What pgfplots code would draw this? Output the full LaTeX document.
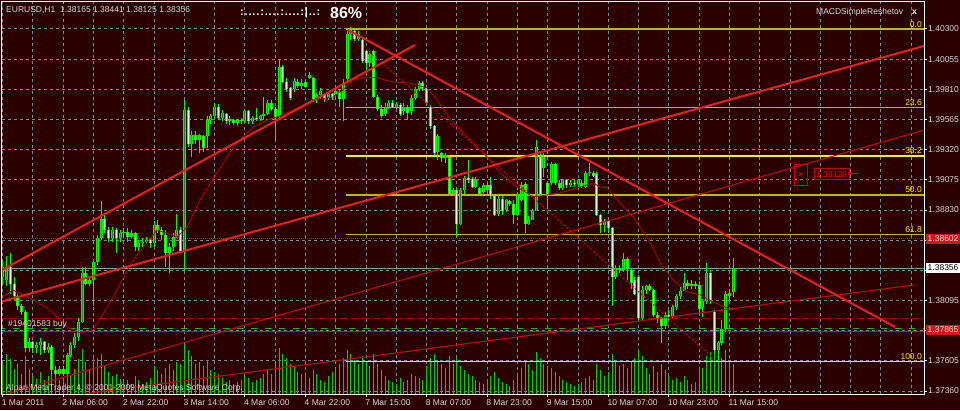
\documentclass[border=0pt]{standalone}
\usepackage{pgfplots}
\pgfplotsset{compat=1.18}
\usepackage{pgfplotstable}
\usepackage{fontspec}
\setmainfont{Liberation Sans}
\definecolor{bg}{RGB}{42,0,0}
\definecolor{gridc}{RGB}{119,136,153}
\definecolor{txt}{RGB}{215,215,215}
\definecolor{wick}{RGB}{0,255,0}
\definecolor{bullfill}{RGB}{0,150,0}
\definecolor{bearfill}{RGB}{215,255,215}
\definecolor{vol}{RGB}{0,210,0}
\definecolor{thickred}{RGB}{235,30,30}
\definecolor{thinred}{RGB}{205,0,0}
\definecolor{fibb}{RGB}{240,240,0}
\definecolor{fibo}{RGB}{185,185,15}
\definecolor{boxred}{RGB}{205,25,25}

\pgfplotstableread{
i o h l c
0 1.3829 1.3842 1.3823 1.3837
1 1.3826 1.3846 1.3821 1.3836
2 1.3837 1.3848 1.3815 1.3823
3 1.3823 1.3829 1.3810 1.3813
4 1.3813 1.3815 1.3802 1.3805
5 1.3805 1.3807 1.3798 1.3800
6 1.3800 1.3802 1.3768 1.3771
7 1.3771 1.3779 1.3768 1.3776
8 1.3776 1.3777 1.3767 1.3771
9 1.3771 1.3776 1.3767 1.3773
10 1.3773 1.3779 1.3765 1.3776
11 1.3776 1.3777 1.3767 1.3769
12 1.3769 1.3775 1.3767 1.3772
13 1.3772 1.3773 1.3750 1.3753
14 1.3753 1.3756 1.3748 1.3750
15 1.3750 1.3756 1.3748 1.3754
16 1.3754 1.3756 1.3748 1.3750
17 1.3750 1.3767 1.3749 1.3765
18 1.3765 1.3776 1.3764 1.3773
19 1.3773 1.3783 1.3771 1.3780
20 1.3780 1.3795 1.3777 1.3792
21 1.3792 1.3837 1.3791 1.3832
22 1.3832 1.3837 1.3822 1.3823
23 1.3823 1.3829 1.3821 1.3826
24 1.3826 1.3842 1.3805 1.3841
25 1.3841 1.3863 1.3838 1.3860
26 1.3860 1.3890 1.3859 1.3876
27 1.3876 1.3879 1.3864 1.3867
28 1.3867 1.3869 1.3857 1.3860
29 1.3860 1.3869 1.3857 1.3867
30 1.3867 1.3868 1.3848 1.3860
31 1.3860 1.3867 1.3857 1.3864
32 1.3864 1.3868 1.3861 1.3865
33 1.3865 1.3868 1.3857 1.3861
34 1.3861 1.3867 1.3860 1.3864
35 1.3864 1.3865 1.3850 1.3853
36 1.3853 1.3859 1.3850 1.3856
37 1.3856 1.3860 1.3853 1.3857
38 1.3857 1.3861 1.3855 1.3859
39 1.3859 1.3860 1.3852 1.3856
40 1.3856 1.3874 1.3853 1.3871
41 1.3871 1.3875 1.3864 1.3867
42 1.3867 1.3869 1.3859 1.3863
43 1.3863 1.3867 1.3837 1.3848
44 1.3848 1.3856 1.3832 1.3853
45 1.3853 1.3864 1.3850 1.3861
46 1.3861 1.3880 1.3860 1.3867
47 1.3867 1.3869 1.3848 1.3850
48 1.3850 1.3972 1.3834 1.3964
49 1.3964 1.3967 1.3934 1.3937
50 1.3937 1.3947 1.3926 1.3944
51 1.3944 1.3947 1.3937 1.3940
52 1.3940 1.3945 1.3929 1.3944
53 1.3943 1.3944 1.3930 1.3933
54 1.3943 1.3959 1.3933 1.3956
55 1.3956 1.3961 1.3953 1.3959
56 1.3959 1.3970 1.3957 1.3967
57 1.3967 1.3969 1.3956 1.3958
58 1.3958 1.3964 1.3955 1.3962
59 1.3961 1.3962 1.3953 1.3955
60 1.3955 1.3959 1.3952 1.3957
61 1.3956 1.3957 1.3952 1.3954
62 1.3954 1.3957 1.3951 1.3956
63 1.3956 1.3958 1.3953 1.3955
64 1.3955 1.3964 1.3954 1.3963
65 1.3963 1.3964 1.3953 1.3955
66 1.3955 1.3959 1.3953 1.3958
67 1.3958 1.3966 1.3955 1.3957
68 1.3957 1.3960 1.3955 1.3959
69 1.3959 1.3975 1.3956 1.3961
70 1.3961 1.3972 1.3960 1.3970
71 1.3970 1.3972 1.3963 1.3965
72 1.3965 1.3967 1.3940 1.3958
73 1.3959 1.4005 1.3956 1.3999
74 1.3999 1.4001 1.3986 1.3987
75 1.3987 1.3990 1.3979 1.3981
76 1.3982 1.3983 1.3972 1.3974
77 1.3981 1.3990 1.3979 1.3988
78 1.3987 1.3989 1.3982 1.3984
79 1.3984 1.3989 1.3981 1.3986
80 1.3987 1.3989 1.3982 1.3983
81 1.3990 1.3995 1.3989 1.3993
82 1.3990 1.3991 1.3971 1.3973
83 1.3973 1.3978 1.3970 1.3976
84 1.3976 1.3982 1.3973 1.3980
85 1.3976 1.3978 1.3971 1.3973
86 1.3974 1.3979 1.3972 1.3977
87 1.3977 1.3978 1.3972 1.3974
88 1.3976 1.3982 1.3975 1.3980
89 1.3979 1.3981 1.3967 1.3973
90 1.3973 1.3989 1.3955 1.3986
91 1.3989 1.4028 1.3987 1.4026
92 1.4026 1.4032 1.4021 1.4029
93 1.4028 1.4029 1.4020 1.4022
94 1.4022 1.4028 1.4020 1.4026
95 1.4021 1.4022 1.4002 1.4004
96 1.4012 1.4014 1.3997 1.4002
97 1.4002 1.4012 1.3999 1.4010
98 1.4012 1.4013 1.3974 1.3975
99 1.3975 1.3976 1.3963 1.3965
100 1.3965 1.3968 1.3958 1.3959
101 1.3961 1.3970 1.3959 1.3967
102 1.3967 1.3972 1.3965 1.3970
103 1.3970 1.3972 1.3966 1.3967
104 1.3967 1.3971 1.3965 1.3969
105 1.3968 1.3970 1.3959 1.3961
106 1.3963 1.3970 1.3960 1.3967
107 1.3967 1.3968 1.3956 1.3962
108 1.3963 1.3976 1.3960 1.3974
109 1.3974 1.3983 1.3972 1.3981
110 1.3981 1.3988 1.3980 1.3986
111 1.3986 1.3988 1.3980 1.3982
112 1.3982 1.3983 1.3968 1.3970
113 1.3967 1.3968 1.3949 1.3951
114 1.3951 1.3952 1.3928 1.3929
115 1.3930 1.3945 1.3924 1.3943
116 1.3929 1.3930 1.3922 1.3925
117 1.3925 1.3929 1.3921 1.3928
118 1.3926 1.3928 1.3894 1.3896
119 1.3896 1.3901 1.3894 1.3899
120 1.3899 1.3901 1.3861 1.3872
121 1.3872 1.3901 1.3871 1.3899
122 1.3899 1.3911 1.3896 1.3909
123 1.3909 1.3924 1.3905 1.3907
124 1.3908 1.3910 1.3901 1.3902
125 1.3902 1.3910 1.3901 1.3908
126 1.3901 1.3902 1.3895 1.3896
127 1.3898 1.3905 1.3896 1.3903
128 1.3903 1.3905 1.3897 1.3899
129 1.3903 1.3910 1.3892 1.3894
130 1.3894 1.3895 1.3878 1.3879
131 1.3880 1.3894 1.3878 1.3892
132 1.3892 1.3894 1.3879 1.3882
133 1.3883 1.3892 1.3881 1.3891
134 1.3890 1.3891 1.3886 1.3888
135 1.3888 1.3891 1.3872 1.3879
136 1.3879 1.3898 1.3878 1.3896
137 1.3891 1.3906 1.3890 1.3903
138 1.3904 1.3906 1.3864 1.3872
139 1.3872 1.3878 1.3871 1.3875
140 1.3875 1.3884 1.3875 1.3882
141 1.3882 1.3940 1.3882 1.3934
142 1.3926 1.3929 1.3895 1.3896
143 1.3917 1.3929 1.3910 1.3926
144 1.3905 1.3906 1.3884 1.3896
145 1.3905 1.3922 1.3903 1.3920
146 1.3920 1.3921 1.3903 1.3905
147 1.3905 1.3907 1.3899 1.3901
148 1.3901 1.3908 1.3899 1.3907
149 1.3907 1.3908 1.3901 1.3903
150 1.3903 1.3907 1.3902 1.3905
151 1.3905 1.3907 1.3902 1.3904
152 1.3904 1.3908 1.3902 1.3907
153 1.3905 1.3907 1.3901 1.3902
154 1.3902 1.3915 1.3901 1.3913
155 1.3913 1.3921 1.3911 1.3914
156 1.3913 1.3915 1.3910 1.3911
157 1.3912 1.3914 1.3878 1.3879
158 1.3879 1.3880 1.3864 1.3871
159 1.3871 1.3876 1.3865 1.3874
160 1.3874 1.3875 1.3864 1.3868
161 1.3868 1.3869 1.3805 1.3829
162 1.3829 1.3838 1.3827 1.3836
163 1.3836 1.3838 1.3832 1.3834
164 1.3834 1.3848 1.3833 1.3843
165 1.3843 1.3845 1.3826 1.3835
166 1.3834 1.3836 1.3819 1.3824
167 1.3826 1.3829 1.3814 1.3815
168 1.3829 1.3830 1.3794 1.3795
169 1.3795 1.3821 1.3794 1.3818
170 1.3818 1.3822 1.3815 1.3821
171 1.3821 1.3823 1.3817 1.3818
172 1.3818 1.3819 1.3796 1.3798
173 1.3798 1.3800 1.3791 1.3795
174 1.3795 1.3796 1.3775 1.3789
175 1.3789 1.3800 1.3786 1.3798
176 1.3798 1.3802 1.3794 1.3796
177 1.3796 1.3806 1.3795 1.3804
178 1.3804 1.3815 1.3802 1.3813
179 1.3813 1.3821 1.3811 1.3817
180 1.3817 1.3832 1.3817 1.3824
181 1.3824 1.3826 1.3819 1.3821
182 1.3821 1.3826 1.3819 1.3823
183 1.3823 1.3825 1.3819 1.3821
184 1.3822 1.3825 1.3799 1.3803
185 1.3804 1.3811 1.3796 1.3809
186 1.3809 1.3840 1.3807 1.3832
187 1.3832 1.3834 1.3807 1.3810
188 1.3800 1.3802 1.3767 1.3769
189 1.3769 1.3777 1.3761 1.3775
190 1.3775 1.3794 1.3773 1.3786
191 1.3786 1.3817 1.3784 1.3815
192 1.3813 1.3819 1.3810 1.3816
193 1.38165 1.38441 1.38125 1.38356
}\candles

\pgfplotstableread{
i v
0 1500
1 2000
2 1750
3 1250
4 1500
5 1000
6 1900
7 1250
8 900
9 750
10 1100
11 700
12 900
13 1500
14 1000
15 700
16 800
17 1100
18 900
19 1250
20 1750
21 2250
22 1600
23 1250
24 1900
25 1800
26 2000
27 1400
28 1100
29 900
30 1000
31 750
32 600
33 700
34 500
35 900
36 700
37 500
38 600
39 800
40 1400
41 1200
42 1000
43 1300
44 1500
45 1200
46 1600
47 1500
48 2500
49 2200
50 1900
51 1500
52 1600
53 1400
54 1700
55 1200
56 1100
57 1000
58 800
59 600
60 700
61 500
62 600
63 700
64 900
65 800
66 600
67 700
68 800
69 1000
70 1200
71 1000
72 1500
73 2300
74 2000
75 1800
76 1500
77 1400
78 1100
79 1000
80 900
81 800
82 1200
83 1000
84 700
85 600
86 900
87 1100
88 1300
89 1500
90 1800
91 2200
92 2000
93 1700
94 1500
95 1900
96 1600
97 1400
98 2000
99 1500
100 1200
101 900
102 700
103 600
104 500
105 800
106 600
107 700
108 1000
109 900
110 800
111 700
112 1400
113 1800
114 2000
115 1700
116 1500
117 1300
118 1900
119 1500
120 1800
121 1400
122 1200
123 1000
124 900
125 700
126 600
127 500
128 700
129 900
130 1100
131 800
132 600
133 500
134 400
135 700
136 1000
137 1300
138 1700
139 1500
140 1200
141 2100
142 1800
143 1500
144 1400
145 1300
146 1100
147 900
148 700
149 600
150 500
151 400
152 500
153 600
154 800
155 900
156 700
157 1500
158 1200
159 900
160 1100
161 2000
162 1700
163 1400
164 1500
165 1300
166 1600
167 1800
168 2200
169 1900
170 1300
171 1000
172 1400
173 1100
174 1500
175 1200
176 900
177 700
178 800
179 600
180 900
181 700
182 500
183 600
184 1200
185 1300
186 1900
187 2100
188 2300
189 2000
190 1800
191 2200
192 1700
193 1500
}\volumes

\pgfplotstableread{
i p
0.08 1.38124
2.72 1.38180
8.0 1.38099
12.5 1.38018
17.0 1.37880
20.4 1.37831
23.9 1.37856
28.3 1.38075
34.4 1.38424
40.8 1.38668
46.1 1.38611
48.7 1.38692
52.1 1.38911
56.6 1.39131
60.9 1.39342
66.1 1.39504
69.8 1.39561
72.5 1.39585
76.7 1.39642
82.0 1.39723
87.3 1.39748
89.9 1.39805
92.5 1.39886
96.2 1.39910
98.9 1.39902
103.1 1.39870
107.6 1.39861
112.1 1.39821
114.7 1.39723
119.0 1.39537
123.5 1.39399
128.0 1.39261
131.4 1.39131
135.9 1.39017
140.1 1.38936
143.8 1.38952
147.2 1.38968
151.7 1.39009
156.0 1.39049
157.8 1.39017
159.7 1.39009
163.1 1.38887
166.5 1.38773
170.2 1.38611
173.7 1.38400
177.1 1.38262
180.8 1.38164
184.2 1.38140
187.7 1.38083
191.4 1.38034
193.0 1.38020
}\maline

\pgfplotsset{
  base/.style={at={(2pt,16pt)}, anchor=south west, scale only axis,
    width=922pt, height=392pt, xmin=-0.185, xmax=243.4},
  price/.style={base, ymin=1.37336, ymax=1.40519},
}

\begin{document}
\begin{tikzpicture}[font=\fontsize{8.5}{10}\selectfont]
\useasboundingbox (0,0) rectangle (960pt,410pt);
\fill[bg] (0,0) rectangle (960pt,410pt);

% frame, grid, ticks
\begin{axis}[price,
  axis line style={white, line width=1pt},
  xtick={0,16,...,192},
  xticklabels={1 Mar 2011,2 Mar 06:00,2 Mar 22:00,3 Mar 14:00,4 Mar 06:00,4 Mar 22:00,7 Mar 15:00,8 Mar 07:00,8 Mar 23:00,9 Mar 15:00,10 Mar 07:00,10 Mar 23:00,11 Mar 15:00},
  extra x ticks={8,24,40,56,72,88,104,120,136,152,168,184,200,208,216,224,232,240},
  extra x tick labels={},
  extra x tick style={major tick length=0pt},
  ytick={1.3736,1.37605,1.3785,1.38095,1.3834,1.38585,1.3883,1.39075,1.3932,1.39565,1.3981,1.40055,1.403},
  yticklabels={1.37360,1.37605,,1.38095,,,1.38830,1.39075,1.39320,1.39565,1.39810,1.40055,1.40300},
  xtick pos=bottom, ytick pos=right, yticklabel pos=right,
  tick align=outside, major tick length=3pt,
  tick style={white, line width=1pt},
  grid=major,
  major grid style={gridc, line width=1pt, dash pattern=on 3pt off 3pt},
  tick label style={font=\fontsize{8.5}{10}\selectfont, text=txt},
  xticklabel style={anchor=north west, inner sep=0pt, xshift=-1pt, yshift=-2pt},
  yticklabel style={anchor=west, inner sep=0pt, xshift=1pt},
]
\end{axis}

% volumes
\begin{axis}[base, hide axis, ymin=0, ymax=19600]
\addplot[ycomb, draw=vol, line width=1pt] table[x=i,y=v]{\volumes};
\end{axis}

% price objects
\begin{axis}[price, hide axis]
% horizontal lines
\addplot[draw={rgb,255:red,150;green,150;blue,150}, line width=1pt] coordinates {(-1,1.38356) (245,1.38356)};
\addplot[draw=red, line width=1pt, dash pattern=on 1pt off 1pt] coordinates {(-1,1.38602) (245,1.38602)};
\addplot[draw={rgb,255:red,165;green,0;blue,0}, line width=1pt, dash pattern=on 7pt off 4pt] coordinates {(-1,1.37953) (245,1.37953)};
\addplot[draw={rgb,255:red,0;green,200;blue,0}, line width=1pt, dash pattern=on 6pt off 8pt] coordinates {(-1,1.37870) (245,1.37870)};
\addplot[draw={rgb,255:red,220;green,0;blue,0}, line width=1.2pt] coordinates {(-1,1.37845) (245,1.37845)};
% fibonacci levels
\addplot[draw=fibo, line width=1.5pt] coordinates {(90.7,1.40300) (245,1.40300)};
\addplot[draw=fibo, line width=1.5pt] coordinates {(90.7,1.39663) (245,1.39663)};
\addplot[draw=fibb, line width=1.5pt] coordinates {(90.7,1.39269) (245,1.39269)};
\addplot[draw=fibo, line width=1.5pt] coordinates {(90.7,1.38950) (245,1.38950)};
\addplot[draw=fibo, line width=1.5pt] coordinates {(90.7,1.38631) (245,1.38631)};
\addplot[draw=fibb, line width=1.5pt] coordinates {(90.7,1.37600) (245,1.37600)};
% candles: wicks
\addplot[draw=wick, line width=1pt, quiver={u=0, v=\thisrow{h}-\thisrow{l}}] table[x=i, y=l]{\candles};
% bull bodies
\addplot[draw=wick, line width=3pt, quiver={u=0, v=\thisrow{c}-\thisrow{o}},
  restrict expr to domain={\thisrow{c}-\thisrow{o}}{0:1}] table[x=i, y=o]{\candles};
\addplot[draw=bullfill, line width=1pt, quiver={u=0, v=\thisrow{c}-\thisrow{o}},
  restrict expr to domain={\thisrow{c}-\thisrow{o}}{0:1}] table[x=i, y=o]{\candles};
% bear bodies
\addplot[draw=wick, line width=3pt, quiver={u=0, v=\thisrow{c}-\thisrow{o}},
  restrict expr to domain={\thisrow{c}-\thisrow{o}}{-1:0}] table[x=i, y=o]{\candles};
\addplot[draw=bearfill, line width=1pt, quiver={u=0, v=\thisrow{c}-\thisrow{o}},
  restrict expr to domain={\thisrow{c}-\thisrow{o}}{-1:0}] table[x=i, y=o]{\candles};
% indicator line
\addplot[draw={rgb,255:red,180;green,0;blue,0}, line width=0.8pt] table[x=i, y=p]{\maline};
% trend lines
\addplot[draw=thinred, line width=1pt] coordinates {(21.2,1.37336) (240.5,1.38221)};
\addplot[draw=thinred, line width=1pt] coordinates {(0.61,1.37336) (243.4,1.39480)};
\addplot[draw=thinred, line width=1pt, dash pattern=on 2pt off 2pt] coordinates {(96.0,1.40138) (187.4,1.37636)};
\addplot[draw=thickred, line width=2pt] coordinates {(-0.185,1.38343) (108.93,1.40170)};
\addplot[draw=thickred, line width=2pt] coordinates {(-0.185,1.38088) (243.4,1.40162)};
\addplot[draw=thickred, line width=2pt] coordinates {(91.23,1.40292) (235.75,1.37880)};
\end{axis}

% fibonacci labels
\begin{scope}[every node/.style={text=fibb, inner sep=0pt, anchor=base east, font=\fontsize{8.5}{10}\selectfont}]
\node at (922pt,382.5pt) {0.0};
\node at (922pt,304.5pt) {23.6};
\node at (922pt,256pt) {38.2};
\node at (922pt,217pt) {50.0};
\node at (922pt,177.5pt) {61.8};
\node at (922pt,50.5pt) {100.0};
\end{scope}

% price boxes on the scale
\node[fill=boxred, text={rgb,255:red,255;green,215;blue,215}, anchor=west, inner sep=1.5pt, minimum height=10pt] at (926pt,171.5pt) {1.38602};
\node[fill=white, text=black, anchor=west, inner sep=1.5pt, minimum height=10pt] at (926pt,142pt) {1.38356};
\node[fill=boxred, text={rgb,255:red,255;green,215;blue,215}, anchor=west, inner sep=1.5pt, minimum height=10pt] at (926pt,80pt) {1.37865};

% alert object
\draw[thinred, line width=1pt] (794pt,245.7pt) rectangle (807pt,224.3pt);
\node[text=red, inner sep=0pt, font=\bfseries\fontsize{7}{8}\selectfont] at (800.5pt,235pt) {x};
\draw[thinred, line width=1pt] (814.3pt,241.7pt) rectangle (849pt,230pt);
\node[text=red, inner sep=0pt, anchor=center] at (831.6pt,235.8pt) {1.39128};
\fill[thinred] (848pt,238pt) rectangle (851pt,235pt);
\draw[thinred, line width=1pt] (851pt,236.5pt) -- (858pt,236.5pt);

% texts
\node[anchor=base west, inner sep=0pt, text=txt] at (6pt,397pt) {EURUSD,H1\ \ 1.38165 1.38441 1.38125 1.38356};
\node[anchor=base west, inner sep=0pt, text=white, font=\bfseries\fontsize{11}{12}\selectfont] at (240pt,394pt) {\hbox to 80pt{:\hfil.\hfil.\hfil.\hfil.\hfil:\hfil.\hfil.\hfil.\hfil.\hfil:\hfil.\hfil.\hfil.\hfil.\hfil:\hfil|\hfil.\hfil.\hfil:}};
\node[anchor=base west, inner sep=0pt, text=white, font=\bfseries\fontsize{16}{18}\selectfont] at (330pt,391.7pt) {86\%};
\node[anchor=base west, inner sep=0pt, text=txt] at (816pt,395pt) {MACDSimpleReshetov};
\node[anchor=base west, inner sep=0pt, text=white, font=\bfseries\fontsize{8.5}{10}\selectfont] at (912pt,395pt) {x};
\node[anchor=base west, inner sep=0pt, text=txt] at (6pt,20pt) {Alpari MetaTrader 4, © 2001-2009 MetaQuotes Software Corp.};
\node[anchor=base west, inner sep=0pt, text=txt] at (8pt,84pt) {\#19401583 buy};
\end{tikzpicture}
\end{document}
